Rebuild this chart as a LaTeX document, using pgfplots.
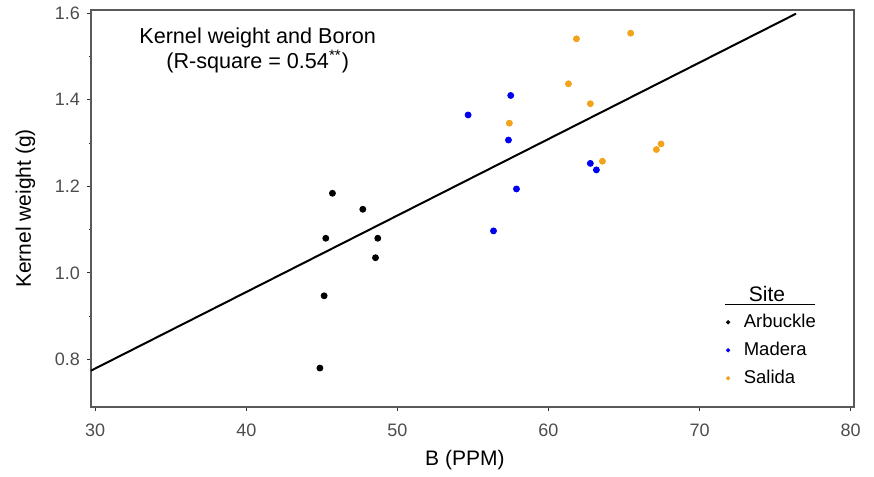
\documentclass[border=0pt]{standalone}
\usepackage{fontspec}
\setmainfont{Liberation Sans}
\usepackage{pgfplots}
\pgfplotsset{compat=1.18}

\definecolor{salida}{RGB}{242,163,25}
\definecolor{madera}{RGB}{0,0,240}
\definecolor{frame}{RGB}{90,90,90}

\begin{document}
\begin{tikzpicture}
\begin{axis}[
    scale only axis,
    width=381.5pt, height=198.5pt,
    xmin=29.72, xmax=80.22,
    ymin=0.69, ymax=1.6076,
    xtick={30,40,...,80},
    ytick={0.8,1.0,1.2,1.4,1.6},
    minor y tick num=1,
    axis line style={frame, line width=0.6pt},
    tick align=outside,
    xtick pos=bottom, ytick pos=left,
    major tick length=2pt, minor tick length=1.2pt,
    tick style={black!80, line width=0.5pt},
    /pgf/number format/assume math mode=true,
    yticklabel style={/pgf/number format/fixed, /pgf/number format/fixed zerofill,
        /pgf/number format/precision=1, font=\fontsize{9}{10}\selectfont, text=black!70},
    xticklabel style={font=\fontsize{9}{10}\selectfont, text=black!70, yshift=-3pt},
    every axis x label/.style={at={(rel axis cs:0.49,0)}, yshift=-26.5pt, anchor=center},
    every axis y label/.style={at={(rel axis cs:0,0.5)}, xshift=-32.8pt, rotate=90, anchor=center},
    xlabel={B (PPM)}, ylabel={Kernel weight (g)},
    label style={font=\fontsize{10.5}{12}\selectfont},
    clip=false,
    legend image code/.code={\draw[#1] plot coordinates {(0pt,0pt)};},
    legend image post style={mark size=0.85pt},
    legend cell align=left,
    legend style={at={(axis cs:71.75,0.912)}, anchor=north west, draw=none, fill=none,
        inner sep=0pt, row sep=3pt, column sep=0pt,
        font=\fontsize{9.25}{11}\selectfont,
        nodes={inner sep=1pt, text height=7pt, text depth=2pt}},
]
\addplot[only marks, mark=*, mark size=1.5pt, black] coordinates {
    (45.70,1.184) (47.71,1.147) (45.26,1.080) (48.70,1.080)
    (48.55,1.035) (45.15,0.947) (44.87,0.780)
};
\addlegendentry{\hspace{6pt}Arbuckle}
\addplot[only marks, mark=*, mark size=1.5pt, madera, mark options={fill=madera}] coordinates {
    (54.68,1.365) (57.50,1.410) (57.35,1.307) (57.88,1.194)
    (56.36,1.097) (62.77,1.253) (63.17,1.238)
};
\addlegendentry{\hspace{6pt}Madera}
\addplot[only marks, mark=*, mark size=1.5pt, salida, mark options={fill=salida}] coordinates {
    (61.85,1.541) (65.44,1.554) (61.32,1.437) (62.77,1.391)
    (57.41,1.346) (63.57,1.258) (67.14,1.285) (67.45,1.298)
};
\addlegendentry{\hspace{6pt}Salida}
% fitted line
\addplot[black, line width=1pt, forget plot] coordinates {(29.72,0.774) (76.38,1.599)};

\node[align=center, font=\fontsize{10.8}{12.5}\selectfont] at (axis cs:40.75,1.515)
    {Kernel weight and Boron\\(R-square = 0.54\textsuperscript{**})};
\node[font=\fontsize{10.5}{12}\selectfont] at (axis cs:74.46,0.951) {Site};
\draw[black, line width=0.6pt] (axis cs:71.68,0.926) -- (axis cs:77.64,0.926);

\coordinate (bl) at (rel axis cs:0,0);
\coordinate (tr) at (rel axis cs:1,1);
\end{axis}
\path[use as bounding box] ([shift={(-45.5pt,-33.5pt)}]bl) rectangle ([shift={(10pt,5pt)}]tr);
\end{tikzpicture}
\end{document}
